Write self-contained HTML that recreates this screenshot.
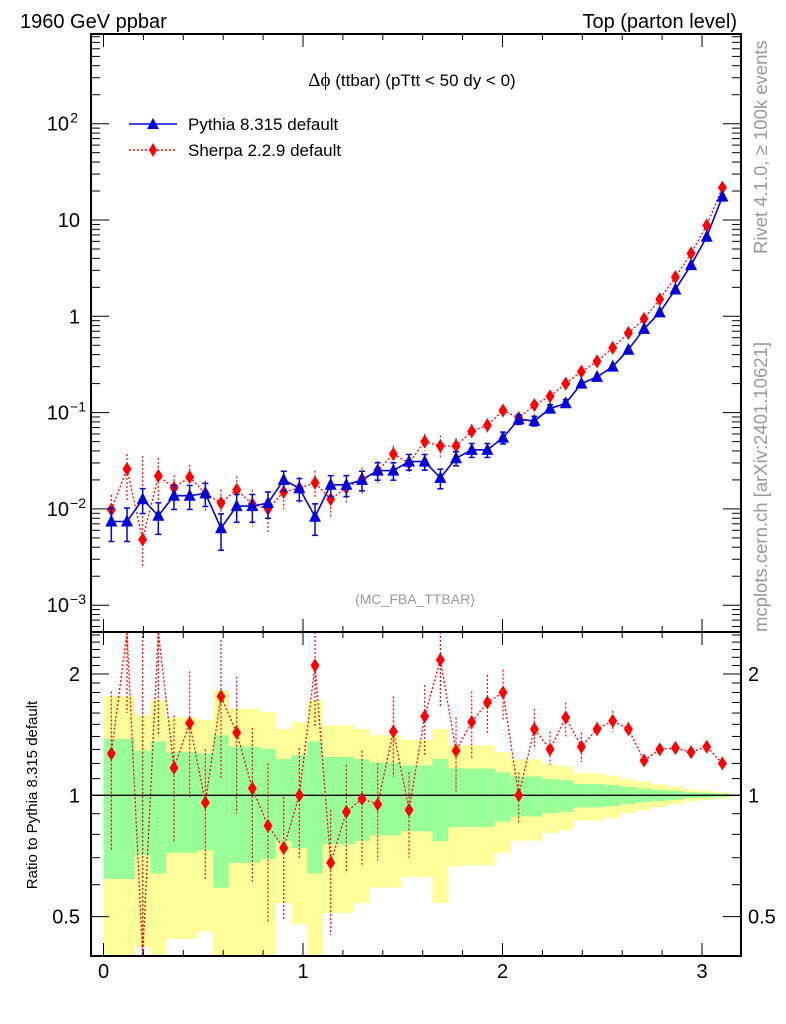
<!DOCTYPE html>
<html><head><meta charset="utf-8"><style>
body{margin:0;background:#fff;}
svg{display:block;font-family:"Liberation Sans",sans-serif;}
</style></head><body>
<svg id="c" width="786" height="1024" viewBox="0 0 786 1024" xmlns="http://www.w3.org/2000/svg">
<text x="20" y="28" font-size="20">1960 GeV ppbar</text>
<text x="737" y="28" font-size="20" text-anchor="end">Top (parton level)</text>
<text x="412" y="86" font-size="17" text-anchor="middle"><tspan font-family="Liberation Serif,serif" font-size="19">Δϕ</tspan> (ttbar) (pTtt &lt; 50 dy &lt; 0)</text>
<text x="415" y="604" font-size="14" fill="#999" text-anchor="middle">(MC_FBA_TTBAR)</text>
<text transform="translate(767,254) rotate(-90)" font-size="18.5" fill="#999">Rivet 4.1.0, ≥ 100k events</text>
<text transform="translate(767,632) rotate(-90)" font-size="18.5" fill="#999">mcplots.cern.ch [arXiv:2401.10621]</text>
<text transform="translate(37,795) rotate(-90)" font-size="15" text-anchor="middle">Ratio to Pythia 8.315 default</text>
<g>
<g>
<line x1="129" y1="124" x2="177" y2="124" stroke="#0000dd" stroke-width="1.5"/>
<polygon points="153,118 147,129 159,129" fill="#0000dd"/>
<text x="188" y="130" font-size="17">Pythia 8.315 default</text></g>
<g>
<line x1="129" y1="150" x2="177" y2="150" stroke="red" stroke-width="1.5" stroke-dasharray="2,2"/>
<polygon points="153,143 157,150 153,157 149,150" fill="red"/>
<text x="188" y="156" font-size="17">Sherpa 2.2.9 default</text></g>
</g>
<g id="bands"></g><g id="marks"></g><g id="axes"></g>
</svg>
<script>
const pythiaVals=[0.0074,0.0074,0.0126,0.0085,0.0137,0.0137,0.0145,0.0063,0.0107,0.0107,0.0115,0.020,0.0164,0.0083,0.0178,0.0178,0.020,0.025,0.025,0.031,0.031,0.021,0.0336,0.041,0.041,0.055,0.085,0.082,0.11,0.125,0.20,0.235,0.30,0.45,0.74,1.1,1.9,3.4,6.7,17.5];
const pythiaRelErr=[0.38,0.38,0.29,0.36,0.28,0.28,0.27,0.41,0.32,0.32,0.305,0.23,0.26,0.36,0.245,0.245,0.23,0.205,0.205,0.186,0.186,0.23,0.167,0.165,0.165,0.14,0.114,0.114,0.097,0.09,0.067,0.067,0.06,0.048,0.04,0.032,0.025,0.017,0.013,0.009];
const sherpaVals=[0.0098,0.026,0.0048,0.022,0.0166,0.0214,0.0145,0.0115,0.0158,0.0112,0.0100,0.015,0.0164,0.0187,0.0126,0.0166,0.0204,0.025,0.037,0.030,0.050,0.045,0.045,0.064,0.074,0.105,0.088,0.12,0.148,0.20,0.266,0.34,0.47,0.67,0.94,1.5,2.55,4.5,8.8,21.7];
const ratioVals=[1.27,3.5,0.38,2.6,1.17,1.51,0.96,1.76,1.43,1.04,0.84,0.74,1.0,2.1,0.68,0.91,0.98,0.95,1.44,0.92,1.57,2.17,1.29,1.52,1.70,1.80,1.0,1.46,1.30,1.56,1.32,1.46,1.53,1.46,1.22,1.30,1.31,1.28,1.32,1.20];
const ratioHi=[1.81,5,2.8,4,1.58,2.03,1.30,2.43,1.97,1.47,1.20,0.99,1.31,2.8,0.92,1.19,1.29,1.20,1.76,1.14,1.88,2.8,1.56,1.81,1.99,2.05,1.14,1.64,1.44,1.70,1.43,1.52,1.62,1.52,1.26,1.34,1.34,1.31,1.35,1.23];
const ratioLo=[0.73,1.6,0.2,1.4,0.76,0.99,0.62,1.10,0.90,0.61,0.48,0.49,0.70,1.47,0.45,0.64,0.67,0.69,1.11,0.70,1.26,1.66,1.01,1.24,1.43,1.54,0.85,1.30,1.19,1.40,1.21,1.40,1.44,1.41,1.18,1.26,1.28,1.25,1.29,1.17];
const xTicks=[0,1,2,3];
const NS="http://www.w3.org/2000/svg";
const L=91,R=741,T=34,MB=632,RB=956;
const N=pythiaVals.length, W=Math.PI/N;
const X=v=>103.5+v*199.5;
const Y=v=>123.7-(Math.log10(v)-2)*96.3;
const RY=v=>795.3-Math.log2(v)*121.3;
function el(tag,a,p){const e=document.createElementNS(NS,tag);for(const k in a)e.setAttribute(k,a[k]);p.appendChild(e);return e;}
const bands=document.getElementById('bands'),marks=document.getElementById('marks'),axes=document.getElementById('axes');
const cl=v=>Math.max(MB,Math.min(RB,v));
const clm=v=>Math.max(T,Math.min(MB,v));
for(let i=0;i<N;i++){
 const x0=X(i*W),x1=X((i+1)*W),s=pythiaRelErr[i];
 const lo2=1-2*s>0.01?RY(1-2*s):RB;
 let r=el('rect',{x:x0,y:cl(RY(1+2*s)),width:x1-x0,height:cl(lo2)-cl(RY(1+2*s)),fill:'#ffff99'},bands);
 
 
 r=el('rect',{x:x0,y:cl(RY(1+s)),width:x1-x0,height:cl(RY(1-s))-cl(RY(1+s)),fill:'#99ff99'},bands);
 
 
}
el('line',{x1:X(0)-12,x2:R,y1:RY(1),y2:RY(1),stroke:'#000','stroke-width':1.3},bands);
const cx=i=>X((i+0.5)*W);
let pp='',sp='',rp='';
for(let i=0;i<N;i++){
 pp+=(i?'L':'M')+cx(i)+','+Y(pythiaVals[i]);
 sp+=(i?'L':'M')+cx(i)+','+Y(sherpaVals[i]);
 rp+=(i?'L':'M')+cx(i)+','+cl(RY(ratioVals[i]));
}
let pl=el('path',{d:sp,fill:'none',stroke:'red','stroke-width':1.3,'stroke-dasharray':'2,2'},marks);


pl=el('path',{d:pp,fill:'none',stroke:'#0000dd','stroke-width':1.6},marks);


pl=el('path',{d:rp,fill:'none',stroke:'red','stroke-width':1.3,'stroke-dasharray':'2,2'},marks);


for(let i=0;i<N;i++){
 const x=cx(i);
 const sv=sherpaVals[i],sh=sv*ratioHi[i]/ratioVals[i],sl=sv*ratioLo[i]/ratioVals[i];
 el('line',{x1:x,x2:x,y1:clm(Y(sh)),y2:clm(Y(sl)),stroke:'red','stroke-width':1.2,'stroke-dasharray':'2,2'},marks);
 let y=Y(sv);
 let d=el('polygon',{points:`${x},${y-7} ${x+4.5},${y} ${x},${y+7} ${x-4.5},${y}`,fill:'red'},marks);
 
 
 const pv=pythiaVals[i],e=pythiaRelErr[i];
 const y1=Y(pv*(1+e)),y2=Y(pv*(1-e));
 if(y2-y1>6){el('line',{x1:x,x2:x,y1:y1,y2:y2,stroke:'#0000dd','stroke-width':1.5},marks);
 el('line',{x1:x-3,x2:x+3,y1:y1,y2:y1,stroke:'#0000dd','stroke-width':1.5},marks);
 el('line',{x1:x-3,x2:x+3,y1:y2,y2:y2,stroke:'#0000dd','stroke-width':1.5},marks);}
 y=Y(pv);
 d=el('polygon',{points:`${x},${y-7} ${x+6},${y+5} ${x-6},${y+5}`,fill:'#0000dd'},marks);
 
 
 el('line',{x1:x,x2:x,y1:cl(RY(ratioHi[i])),y2:cl(RY(ratioLo[i])),stroke:'red','stroke-width':1.2,'stroke-dasharray':'2,2'},marks);
 const rv=ratioVals[i];
 if(rv<2.55&&rv>0.39){y=RY(rv);
 d=el('polygon',{points:`${x},${y-7} ${x+4.5},${y} ${x},${y+7} ${x-4.5},${y}`,fill:'red'},marks);
 
 }
}
let f=el('rect',{x:L,y:T,width:R-L,height:MB-T,fill:'none',stroke:'#000','stroke-width':2},axes);


f=el('rect',{x:L,y:MB,width:R-L,height:RB-MB,fill:'none',stroke:'#000','stroke-width':2},axes);


for(let v=0;v<=3.2;v+=0.2){
 const x=X(v),maj=Math.abs(v-Math.round(v))<1e-6,len=maj?13:6;
 for(const [a,b] of [[T,T+len],[MB,MB-len],[MB,MB+len],[RB,RB-len]])
  el('line',{x1:x,x2:x,y1:a,y2:b,stroke:'#000','stroke-width':1},axes);
}
for(const v of xTicks){
 const t=el('text',{x:X(v),y:978,'font-size':20,'text-anchor':'middle'},axes);t.textContent=v;
 
 
}
for(let p=-4;p<=2;p++)for(let m=1;m<10;m++){
 const v=m*Math.pow(10,p),y=Y(v);if(y<T||y>MB)continue;
 const len=m==1?18:9;
 el('line',{x1:L,x2:L+len,y1:y,y2:y,stroke:'#000','stroke-width':1},axes);
 el('line',{x1:R,x2:R-len,y1:y,y2:y,stroke:'#000','stroke-width':1},axes);
}
const mlabels=[[100,'10','2'],[10,'10',''],[1,'1',''],[0.1,'10','−1'],[0.01,'10','−2'],[0.001,'10','−3']];
for(const [v,b,s] of mlabels){
 const t=el('text',{x:s?69:80,y:Y(v)+7,'font-size':20,'text-anchor':'end'},axes);
 t.textContent=v==10?'10':b;
 
 
 if(s){const u=el('text',{x:s=='2'?78:86,y:Y(v)-1,'font-size':14,'text-anchor':'end'},axes);u.textContent=s;}
}
for(const v of [0.4,0.5,0.6,0.7,0.8,0.9,1,1.1,1.2,1.3,1.4,1.5,1.6,1.7,1.8,1.9,2,2.1,2.2,2.3,2.4,2.5]){
 const y=RY(v);if(y<MB||y>RB)continue;const maj=[0.5,1,2].includes(v),len=maj?18:9;
 el('line',{x1:L,x2:L+len,y1:y,y2:y,stroke:'#000','stroke-width':1},axes);
 el('line',{x1:R,x2:R-len,y1:y,y2:y,stroke:'#000','stroke-width':1},axes);
}
for(const v of [2,1,0.5]){
 let t=el('text',{x:80,y:RY(v)+7,'font-size':20,'text-anchor':'end'},axes);t.textContent=v;
 
 
 t=el('text',{x:748,y:RY(v)+7,'font-size':20},axes);t.textContent=v;
 
 
}
</script>
</body></html>
